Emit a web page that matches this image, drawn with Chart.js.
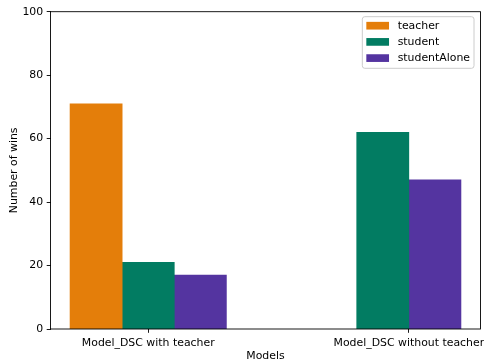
<!DOCTYPE html>
<html>
<head>
<meta charset="utf-8">
<script src="https://cdn.jsdelivr.net/npm/chart.js@4/dist/chart.umd.min.js"></script>
<style>
  html, body { margin: 0; padding: 0; background: #ffffff; }
  canvas { display: block; }
</style>
</head>
<body>
<canvas id="chart" width="484" height="362"></canvas>
<script>
// Wins per model configuration
const categories = ['Model_DSC with teacher', 'Model_DSC without teacher'];
const seriesNames = ['teacher', 'student', 'studentAlone'];
const teacherWins = [71, null];
const studentWins = [21, 62];
const studentAloneWins = [17, 47];
const yTickValues = [0, 20, 40, 60, 80, 100];

const seriesColors = ['#E47E0A', '#027C62', '#5434A0'];
const FONT = 'DejaVu Sans';
const FONT_SIZE = 10.9;
const BAR_WIDTH = 0.2; // in x-axis units (one category = 1 unit)

const seriesValues = [teacherWins, studentWins, studentAloneWins];

const datasets = seriesNames.map((name, s) => ({
  label: name,
  data: categories.map((c, i) => ({ x: i, y: seriesValues[s][i] })),
  backgroundColor: seriesColors[s],
  borderWidth: 0,
  skipNull: true,
  barThickness: (ctx) => {
    const xs = ctx.chart.scales.x;
    return Math.abs(xs.getPixelForValue(BAR_WIDTH) - xs.getPixelForValue(0));
  }
}));

// Full box frame around the plot area
const framePlugin = {
  id: 'frame',
  afterDatasetsDraw(chart) {
    const { ctx, chartArea: a } = chart;
    ctx.save();
    ctx.strokeStyle = '#000000';
    ctx.lineWidth = 0.9;
    ctx.strokeRect(a.left, a.top, a.right - a.left, a.bottom - a.top);
    ctx.restore();
  }
};

// Boxed legend in the upper-right corner of the plot area
const legendPlugin = {
  id: 'boxLegend',
  afterDraw(chart) {
    const { ctx, chartArea: a } = chart;
    const ds = chart.data.datasets;
    ctx.save();
    ctx.font = FONT_SIZE + 'px "' + FONT + '"';
    const maxW = Math.max(...ds.map(d => ctx.measureText(d.label).width));
    const pad = 4, handleW = 22.7, handleH = 7.7, gap = 8.6, rowH = 16.2;
    const boxRight = a.right - 6.5;
    const boxTop = a.top + 5;
    const textX = boxRight - pad - maxW;
    const boxLeft = textX - gap - handleW - pad;
    const boxH = 51.6;
    ctx.fillStyle = 'rgba(255,255,255,0.8)';
    ctx.strokeStyle = '#cccccc';
    ctx.lineWidth = 1;
    ctx.beginPath();
    ctx.roundRect(boxLeft, boxTop, boxRight - boxLeft, boxH, 2.5);
    ctx.fill();
    ctx.stroke();
    ds.forEach((d, i) => {
      const cy = boxTop + 9 + i * rowH;
      ctx.fillStyle = d.backgroundColor;
      ctx.fillRect(boxLeft + pad, cy - handleH / 2, handleW, handleH);
      ctx.fillStyle = '#000000';
      ctx.textBaseline = 'middle';
      ctx.textAlign = 'left';
      ctx.fillText(d.label, textX, cy);
    });
    ctx.restore();
  }
};

new Chart(document.getElementById('chart'), {
  type: 'bar',
  data: { datasets },
  options: {
    responsive: false,
    animation: false,
    devicePixelRatio: 1,
    layout: { padding: { left: 0, right: 3.5, top: 11.7, bottom: 0 } },
    plugins: {
      legend: { display: false },
      tooltip: { enabled: false }
    },
    scales: {
      x: {
        type: 'linear',
        min: -0.375,
        max: 1.275,
        offset: false,
        border: { display: false },
        grid: {
          offset: false,
          drawOnChartArea: false,
          drawTicks: true,
          tickLength: 3.8,
          tickColor: '#000000',
          lineWidth: 0.9
        },
        afterBuildTicks(scale) {
          scale.ticks = categories.map((c, i) => ({ value: i }));
        },
        ticks: {
          autoSkip: false,
          maxRotation: 0,
          padding: 3.5,
          color: '#000000',
          font: { family: FONT, size: FONT_SIZE },
          callback: (v) => categories[v]
        },
        title: {
          display: true,
          text: 'Models',
          color: '#000000',
          font: { family: FONT, size: FONT_SIZE, lineHeight: 1 },
          padding: { top: 0, bottom: 0 }
        },
        afterFit(scale) {
          scale.height = 33;
          scale.paddingLeft = 0;
          scale.paddingRight = 0;
        }
      },
      y: {
        min: 0,
        max: 100,
        border: { display: false },
        grid: {
          drawOnChartArea: false,
          drawTicks: true,
          tickLength: 3.8,
          tickColor: '#000000',
          lineWidth: 0.9
        },
        afterBuildTicks(scale) {
          scale.ticks = yTickValues.map(v => ({ value: v }));
        },
        ticks: {
          padding: 3.5,
          color: '#000000',
          font: { family: FONT, size: FONT_SIZE },
          callback: (v) => String(v)
        },
        title: {
          display: true,
          text: 'Number of wins',
          color: '#000000',
          font: { family: FONT, size: FONT_SIZE, lineHeight: 1 },
          padding: { top: 8.5, bottom: 0 }
        },
        afterFit(scale) {
          scale.width = 50.5;
          scale.paddingTop = 0;
          scale.paddingBottom = 0;
        }
      }
    }
  },
  plugins: [framePlugin, legendPlugin]
});
</script>
</body>
</html>
